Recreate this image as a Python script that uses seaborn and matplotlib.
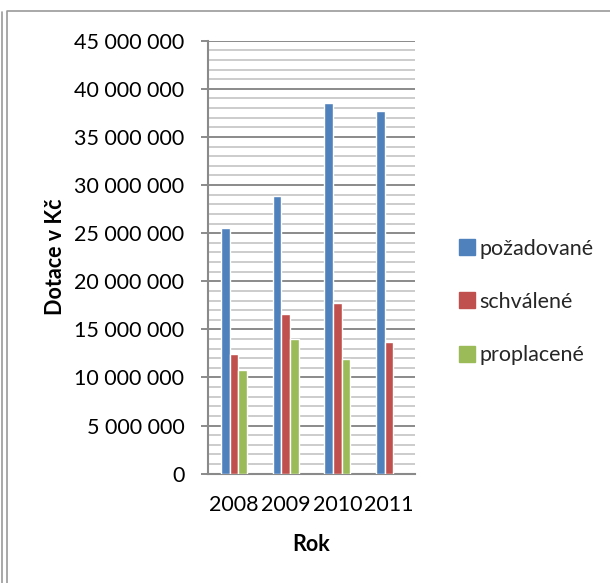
import matplotlib
matplotlib.use("Agg")
import matplotlib.pyplot as plt
from matplotlib.lines import Line2D
from matplotlib.ticker import MultipleLocator, FuncFormatter
import seaborn as sns
import pandas as pd
import numpy as np

# data
roky = ["2008", "2009", "2010", "2011"]
pozadovane = [25500000, 28900000, 38500000, 37650000]
schvalene = [12470000, 16630000, 17770000, 13690000]
proplacene = [10780000, 13970000, 11920000, np.nan]
serie = ["požadované", "schválené", "proplacené"]
barvy = ["#4F81BD", "#C0504D", "#9BBB59"]

df = pd.DataFrame({
    "Rok": roky * 3,
    "Dotace": pozadovane + schvalene + proplacene,
    "serie": [s for s in serie for _ in roky],
})

sns.set_theme(style="white")
plt.rcParams["font.family"] = ["Lato", "DejaVu Sans"]

W, H = 610, 583
fig = plt.figure(figsize=(W / 100, H / 100), dpi=100)
ax = fig.add_axes([208 / W, 1 - 473.7 / H, (415 - 208) / W, (473.7 - 40.7) / H])

sns.barplot(data=df, x="Rok", y="Dotace", hue="serie", palette=barvy,
            width=0.504, gap=0, saturation=1, errorbar=None, ax=ax,
            legend=False, zorder=3)

ax.set_ylim(0, 45000000)
ax.set_xlim(-0.5, 3.5)
ax.yaxis.set_major_locator(MultipleLocator(5000000))
ax.yaxis.set_minor_locator(MultipleLocator(1000000))
ax.yaxis.set_major_formatter(FuncFormatter(lambda v, p: f"{int(v):,}".replace(",", " ")))

ax.grid(which="minor", axis="y", color="#c4c4c4", lw=1.2, zorder=0)
ax.grid(which="major", axis="y", color="#8a8a8a", lw=1.4, zorder=1)
ax.set_axisbelow(True)

for s in ["top", "right"]:
    ax.spines[s].set_visible(False)
for s in ["left", "bottom"]:
    ax.spines[s].set_color("#8a8a8a")
    ax.spines[s].set_linewidth(1.5)

ax.tick_params(axis="y", which="major", left=True, length=5, width=1.4,
               color="#8a8a8a", labelsize=15.5, pad=12, labelcolor="black")
ax.tick_params(axis="y", which="minor", left=False)
ax.tick_params(axis="x", bottom=False, labelsize=15.5, pad=9, labelcolor="black")

ax.set_xlabel("Rok", fontsize=15.5, fontweight="bold", color="black")
ax.set_ylabel("Dotace v Kč", fontsize=15.5, fontweight="bold", color="black")
ax.xaxis.set_label_coords(0.5, (473.7 - 534) / (473.7 - 40.7))
ax.yaxis.set_label_coords((66 - 208) / (415 - 208), 0.5)

# legend on the right
handles = [Line2D([], [], marker="s", linestyle="none", markersize=11,
                  markerfacecolor=c, markeredgecolor=c) for c in barvy]
fig.legend(handles, serie, loc="upper left", bbox_to_anchor=(450 / W, 1 - 230 / H),
           frameon=False, fontsize=15.5, handlelength=0.75, handletextpad=0.2,
           labelspacing=1.55, borderaxespad=0)

# chart frame like in the source
fig.add_artist(Line2D([7 / W, 7 / W, 1], [0, 1 - 11 / H, 1 - 11 / H],
                      color="#9a9a9a", lw=1.2, transform=fig.transFigure))
fig.add_artist(Line2D([1.5 / W, 1.5 / W], [0, 1 - 12 / H],
                      color="#9a9a9a", lw=1.2, transform=fig.transFigure))

fig.savefig("out.png", dpi=100)
